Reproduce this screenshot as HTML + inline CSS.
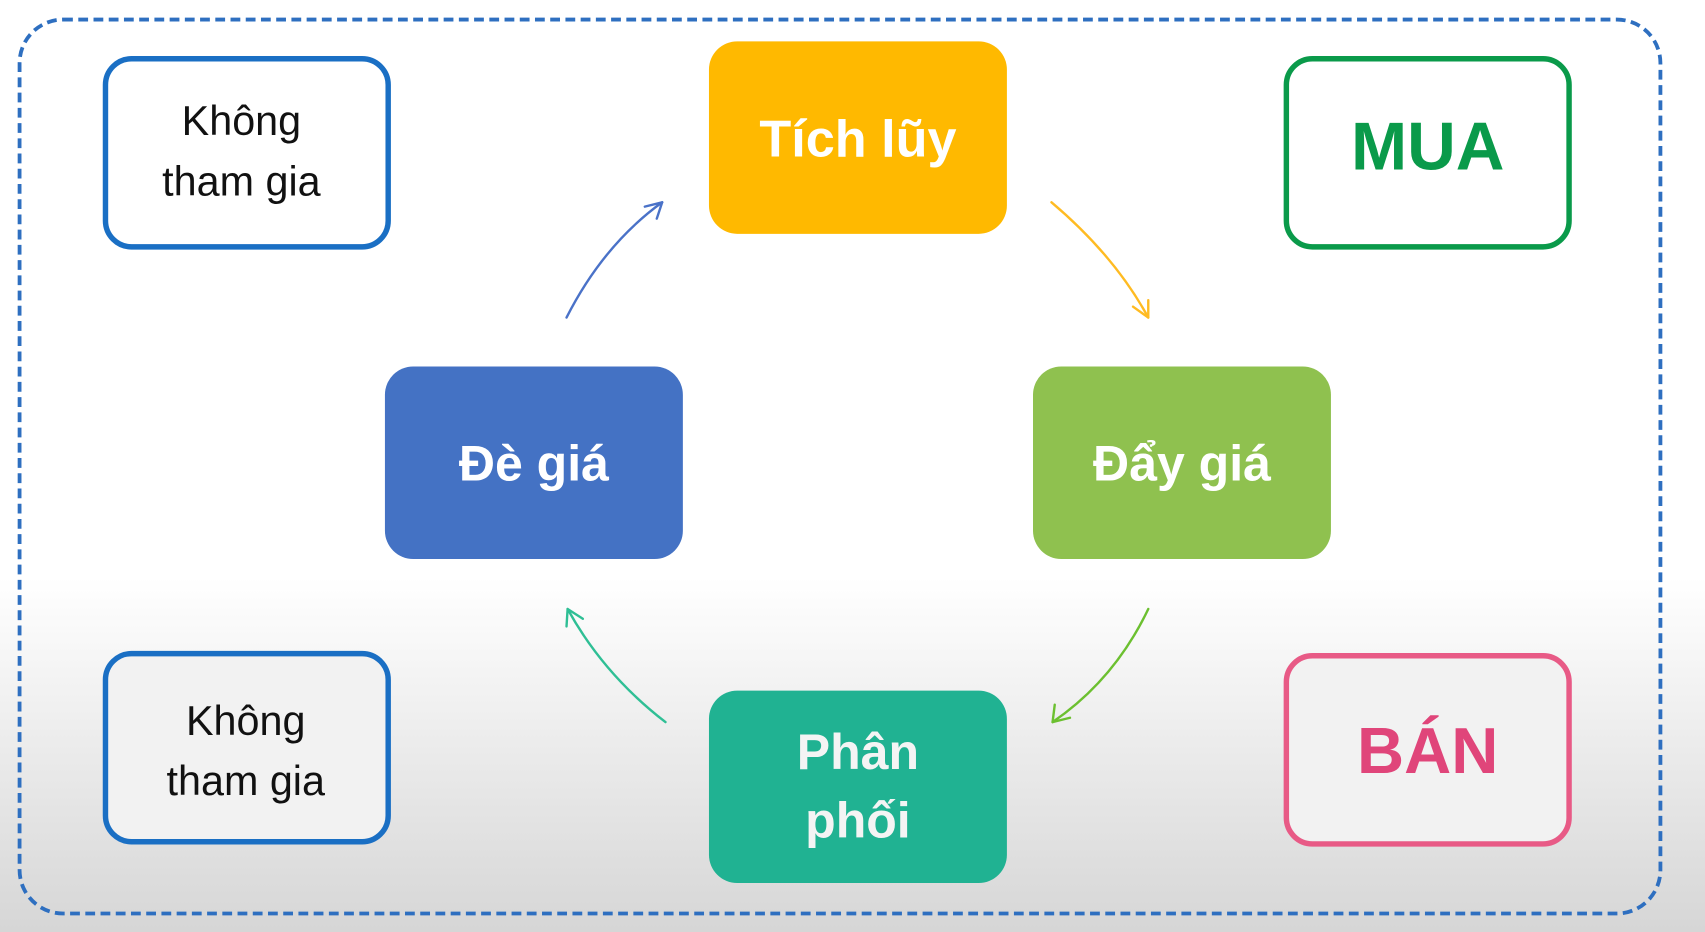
<!DOCTYPE html>
<html><head><meta charset="utf-8"><style>
html,body{margin:0;padding:0;width:1705px;height:932px;overflow:hidden;background:#fff}
svg{display:block}
text{font-family:"Liberation Sans","DejaVu Sans",sans-serif;text-anchor:middle}
</style></head><body>
<svg width="1705" height="932" viewBox="0 0 1568 857" preserveAspectRatio="none">
<defs>
<linearGradient id="bg" x1="0" y1="0" x2="0" y2="1">
<stop offset="0" stop-color="#ffffff"/><stop offset="0.62" stop-color="#ffffff"/><stop offset="1" stop-color="#d6d6d6"/>
</linearGradient>
</defs>
<rect x="0" y="0" width="1568" height="857" fill="url(#bg)"/>
<rect x="18" y="18" width="1509" height="822" rx="40" fill="none" stroke="#2e6fc0" stroke-width="3.5" stroke-dasharray="9 5"/>

<rect x="97" y="54" width="260" height="173" rx="24" fill="#fff" stroke="#1a6fc4" stroke-width="5"/>
<text x="222" y="124" font-size="38" fill="#111">Không</text>
<text x="222" y="180" font-size="38" fill="#111">tham gia</text>

<rect x="97" y="601" width="260" height="173" rx="24" fill="#f2f2f2" stroke="#1a6fc4" stroke-width="5"/>
<text x="226" y="676" font-size="38" fill="#111">Không</text>
<text x="226" y="731" font-size="38" fill="#111">tham gia</text>

<rect x="1183" y="54" width="260" height="173" rx="24" fill="#fff" stroke="#0a9a4a" stroke-width="5"/>
<text x="1313" y="156" font-size="62" font-weight="bold" fill="#0a9a4a">MUA</text>

<rect x="1183" y="603" width="260" height="173" rx="24" fill="#f2f2f2" stroke="#e85a86" stroke-width="5"/>
<text x="1313" y="711" font-size="60" font-weight="bold" fill="#e0457a">BÁN</text>

<rect x="652" y="38" width="274" height="177" rx="26" fill="#ffb900"/>
<text x="789" y="144" font-size="48" font-weight="bold" fill="#fff">Tích lũy</text>

<rect x="354" y="337" width="274" height="177" rx="26" fill="#4472c4"/>
<text x="491" y="442" font-size="46" font-weight="bold" fill="#fff">Đè giá</text>

<rect x="950" y="337" width="274" height="177" rx="26" fill="#8fc14f"/>
<text x="1087" y="442" font-size="46" font-weight="bold" fill="#fff">Đẩy giá</text>

<rect x="652" y="635" width="274" height="177" rx="26" fill="#20b292"/>
<text x="789" y="707" font-size="46" font-weight="bold" fill="#f4f4f4">Phân</text>
<text x="789" y="770" font-size="46" font-weight="bold" fill="#f4f4f4">phối</text>

<g fill="none" stroke-width="2.2" stroke-linecap="round" stroke-linejoin="round">
<path d="M521 292 Q555 225 609 186" stroke="#4a72c8"/>
<path d="M593 190 L609 186 L604 201" stroke="#4a72c8"/>
<path d="M967 186 Q1025 235 1056 292" stroke="#ffbb22"/>
<path d="M1042 282 L1056 292 L1056 276" stroke="#ffbb22"/>
<path d="M1056 560 Q1025 625 968 664" stroke="#6cc030"/>
<path d="M970 648 L968 664 L984 660" stroke="#6cc030"/>
<path d="M612 664 Q555 620 522 560" stroke="#2fbf95"/>
<path d="M521 576 L522 560 L536 569" stroke="#2fbf95"/>
</g>
</svg>
</body></html>
